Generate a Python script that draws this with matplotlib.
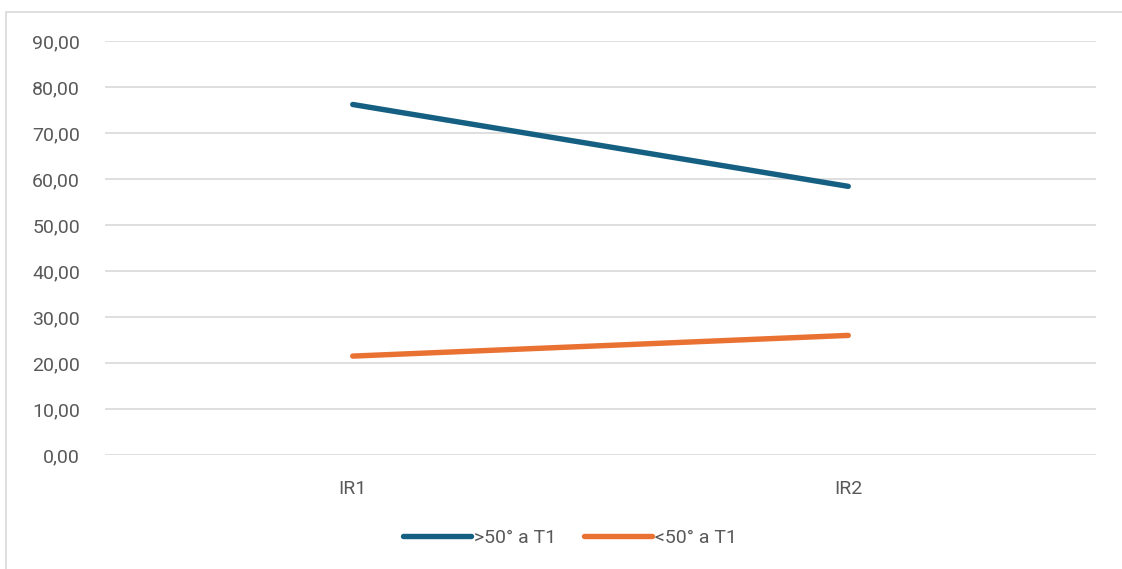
import matplotlib
matplotlib.use("Agg")
import matplotlib.pyplot as plt
from matplotlib.patches import Rectangle
from matplotlib.ticker import FuncFormatter, MultipleLocator

plt.rcParams["font.family"] = ["Roboto", "DejaVu Sans"]

# data
categories = ["IR1", "IR2"]
above_50 = [76.2, 58.4]
below_50 = [21.5, 26.0]
series_labels = [">50° a T1", "<50° a T1"]

BLUE = "#156082"
ORANGE = "#E97132"
GRID = "#D9D9D9"
TEXT = "#595959"

fig = plt.figure(figsize=(11.22, 5.69), dpi=100)
ax = fig.add_axes([105 / 1122, 1 - 455 / 569, 991 / 1122, 414 / 569])

# chart area frame
fig.patches.append(Rectangle((6 / 1122, -0.1), 1.2, 1 - 12 / 569 + 0.1,
                             transform=fig.transFigure, fill=False,
                             edgecolor=GRID, linewidth=1.2))

x = range(len(categories))
ax.plot(x, above_50, color=BLUE, linewidth=3.9, solid_capstyle="round",
        label=series_labels[0])
ax.plot(x, below_50, color=ORANGE, linewidth=3.9, solid_capstyle="round",
        label=series_labels[1])

ax.set_xlim(-0.5, 1.5)
ax.set_ylim(0, 90)
ax.yaxis.set_major_locator(MultipleLocator(10))
ax.yaxis.set_major_formatter(FuncFormatter(lambda v, p: f"{v:.2f}".replace(".", ",")))
ax.set_xticks(list(x))
ax.set_xticklabels(categories)

ax.grid(axis="y", color=GRID, linewidth=1.2)
ax.set_axisbelow(True)
for s in ax.spines.values():
    s.set_visible(False)
ax.tick_params(axis="both", length=0, labelsize=14, labelcolor=TEXT)
ax.tick_params(axis="y", pad=18)
ax.tick_params(axis="x", pad=18)

leg = fig.legend(loc="center", bbox_to_anchor=(570 / 1122, 1 - 538 / 569),
                 ncol=2, frameon=False, fontsize=14, labelcolor=TEXT,
                 handlelength=3.5, handletextpad=0.15, columnspacing=1.4)
for line in leg.get_lines():
    line.set_solid_capstyle("round")

fig.savefig("out.png", dpi=100, facecolor="white")
